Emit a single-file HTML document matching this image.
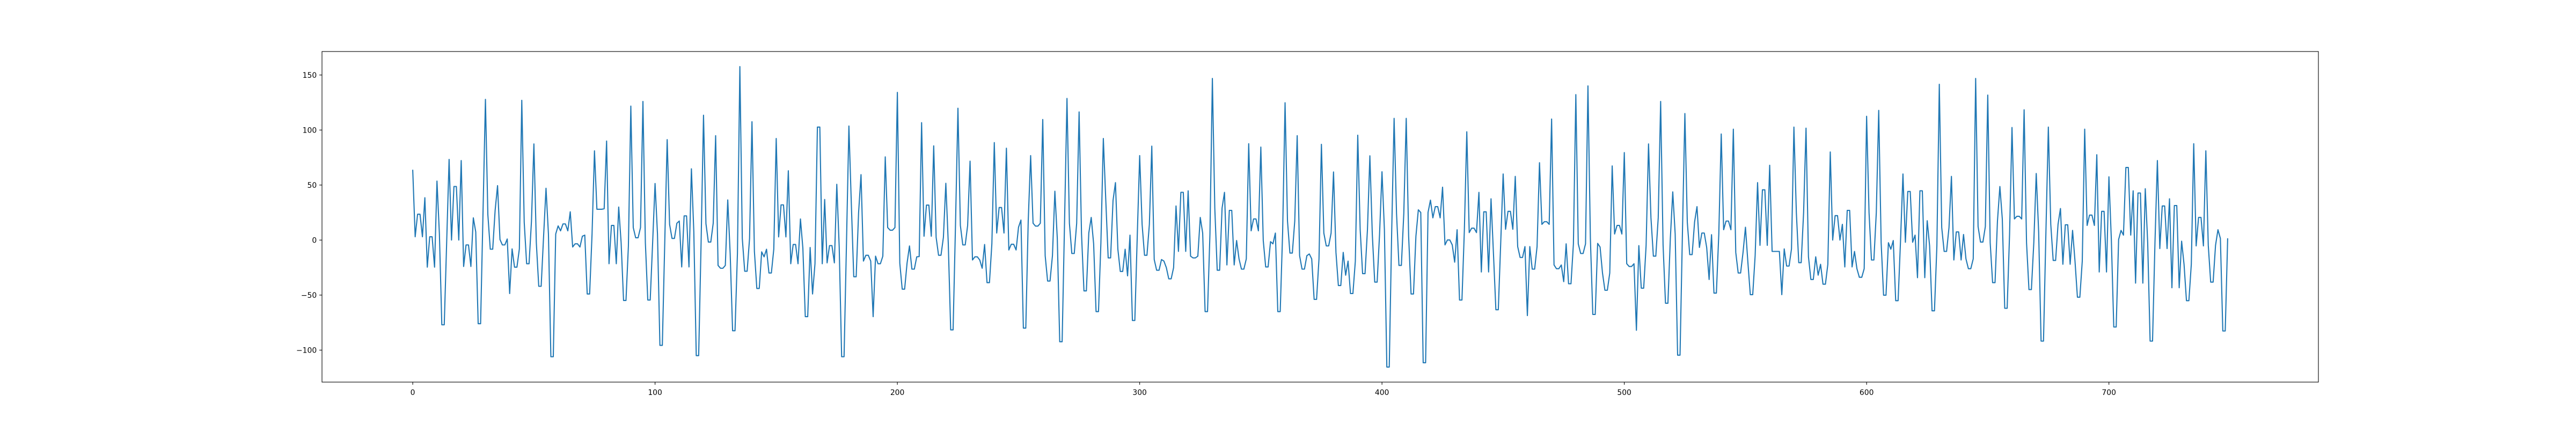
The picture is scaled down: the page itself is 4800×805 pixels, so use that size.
<!DOCTYPE html>
<html><head><meta charset="utf-8"><style>
html,body{margin:0;padding:0;background:#fff;}
svg text{font-family:"DejaVu Sans","Liberation Sans",sans-serif;font-size:13.9px;fill:#000;}
</style></head><body>
<svg id="chart" width="4800" height="800" xmlns="http://www.w3.org/2000/svg">
<rect x="0" y="0" width="4800" height="800" fill="#fff"/>
<g id="plot"></g>
</svg>
<script>
const xTicks = [0,100,200,300,400,500,600,700];
const yTicks = [-100,-50,0,50,100,150];
const seriesA = [63.4,3,23.5,23.5,3,38.5,-24.6,3,3,-24.6,53.6,5.5,-77,-77,-2,73.3,0,48.7,48.7,0,72.3,-24,-4.4,-4.4,-24,20.2,7.4,-76,-76,25,127.9,23,-8.3,-8.3,27,49.5,0.5,-4.4,-4.4,1,-48.6,-8,-24.6,-24.6,-8,127,16.3,-21.5,-21.5,17.3,87.4,-2.4,-42,-42,3.5,47.1,5.5,-106,-106,5.5,12.9,8.4,14.7,14.7,8.4,25.7,-6.3,-3.4,-3.4,-6.3,3.5,4.5,-49,-49,5.5,81.1,28,28,28,28.5,90,-21.5,13.3,13.3,-21.5,30,-2.4,-54.9,-54.9,-5.3,121.8,11.4,2.1,2.1,11.4,126,-2.4,-54.5,-54.5,-2.4,51.4,5.5,-95.7,-95.7,-2.4,91.3,14.3,1.5,1.5,15.3,17.3,-24.4,22,22,-24.4,64.8,7.4,-105,-105,-2.4,113.5,14.9,-1.8,-1.8,15.3,94.9,-23,-25.6,-25.6,-23,36.5,-12.2,-82.4,-82.4,-12,157.7,1.5,-28.3,-28.3,1.5,107.6,-10.3,-44,-44,-10.7,-15.2,-8.3,-29.9,-29.9,-8.3,92.3,2.9,32,32,2.9,63,-21.5,-4,-4,-21.5];
const seriesB = [19.2,-7.3,-69.6,-69.6,-6.7,-49,-21.5,102.7,102.7,-21.5,36.9,-20.7,-5,-5,-20.7,50.7,-6.3,-106,-106,-2.4,103.7,33,-33.3,-33.3,25,59.5,-19.1,-13.8,-13.8,-19.1,-69.6,-14.6,-21.5,-21.5,-14.6,75.6,11.4,9,9,11.4,134.2,-21,-44.6,-44.6,-21,-5.3,-26.4,-26.4,-15.2,-15,106.7,3.5,31.8,31.8,3.5,85.6,2.5,-13.8,-13.8,2.5,51.6,-2.4,-81.6,-81.6,15,119.8,13.3,-4.4,-4.4,13.3,71.7,-18.1,-15.2,-15.2,-18.1,-25.6,-4,-38.7,-38.7,-3.4,88.6,6.4,29.6,29.6,6.4,83.5,-9,-3.8,-3.8,-9,11.7,18.2,-80,-80,17,76.8,15.3,12.7,12.7,15.3,109.6,-14.2,-37.2,-37.2,-14.2,44.4,1.5,-92.4,-92.4,17,128.7,15.3,-12.2,-12.2,15.3,116.5,5.5,-46.2,-46.2,6.4,20.6,-3.4,-65,-65,-2.4,92.3,36.9,-16.2,-16.2,35.9,52.2,-8.3,-28.5,-28.5,-8.3,-32.5,4.5,-73.1,-73.1,3.5,76.8,14.3,-13.8,-13.8,14.3,85.4,-17.7,-27.4,-27.4,-17.7,-19.1,-25,-35.2,-35.2,-25,31,-10.3,43.4,43.4,-10.3,44.8,-14.6,-16.2,-16.2,-14.6];
const seriesC = [20.6,6.4,-65,-65,5.5,146.9,29,-27.4,-27.4,29,43.4,-22.6,27,27,-22.6,-0.4,-17.1,-26.4,-26.4,-17.1,87.6,8.4,19.2,19.2,8.4,84.5,-0.4,-24.4,-24.4,-1.4,-3.4,6.4,-65,-65,7.4,124.8,17.3,-11.8,-11.8,17.3,94.9,-14.2,-26.4,-26.4,-14.2,-12.6,-17.1,-53.9,-53.9,-17.1,87,6.4,-5.3,-5.3,6.4,61.9,-11.2,-41.3,-41.3,-11.2,-31.9,-19.1,-48.6,-48.6,-19.1,95.3,9.4,-30.5,-30.5,9.4,76.6,5.5,-38.2,-38.2,5.5,62.1,9.4,-115.4,-115.4,7.4,110.6,24.1,-23,-23,24.1,110.6,3.5,-49,-49,3.5,27.5,25.1,-111.5,-111.5,25.1,36.3,20.2,30.4,30.4,20.2,48.1,-4.4,0.1,0.1,-4.4,-20.1,9.4,-54.5,-54.5,9.4,98.4,6.8,10.8,10.8,6.8,43.4,-29,25.7,25.7,-29,37.5,-12.2,-63.3,-63.3,-2.4,60.1,9.8,26.1,26.1,9.8,57.9,-5.9,-15.8,-15.8,-5.9,-68.6,-5.9,-26.4,-26.4,-5.9,70.3,14.3,16.7,16.7,14.3,110,-22.6,-26,-26,-22.6,-37.8,-3.4,-39.7,-39.7,-3.4,132.2,-3.4,-12.2,-12.2,-3.4,140.1,1.5,-67.6,-67.6,-3,-6.3,-29.9,-45.6,-45.6,-29.9,67.4];
const seriesD = [5.5,13.3,13.3,5.5,79.5,-21.5,-24,-24,-21.5,-82,-5,-43.7,-43.7,-5,87.4,20.2,-14.6,-14.6,20.2,126,-4.4,-57.4,-57.4,1.5,43.8,5.5,-104.6,-104.6,7.4,115,16.3,-13.2,-13.2,16.3,30.4,-6.7,6.4,6.4,-6.7,-35.8,4.9,-48.2,-48.2,5.5,96.4,9.4,17.3,17.3,9.4,100.8,-11.2,-29.9,-29.9,-11.2,11.7,-20.1,-49.6,-49.6,-14.2,52.2,-4.8,45.7,45.7,-4.8,68,-10.3,-10.3,-10.3,-10.3,-49.6,-8,-23.6,-23.6,-8,102.7,25.1,-20.5,-20.5,25.1,101.7,-15.2,-35.8,-35.8,-15.2,-31.9,-22,-40.1,-40.1,-22,80.1,0,22.2,22.2,0,14.3,-24.4,27,27,-24.4,-10.3,-26,-33.8,-33.8,-26,112.5,25.1,-18.1,-18.1,25.1,117.9,-2.4,-50.1,-50.1,-2.4,-8.3,-0.4,-55.1,-55.1,-0.4,60.1,-2,44.2,44.2,-2,4.5,-34.2,44.8,44.8,-34.2,17.6,-5.3,-64.3,-64.3,-5.3,141.6,11.4,-10.3,-10.3,11.4,57.9,-18.1,7.4,7.4,-18.1,5.1,-17.1,-26,-26,-17.1,146.9,12.3,-1.8,-1.8,12.3,131.8,-2.4,-38.7,-38.7,17.3,48.7,19.2,-62,-62,5.5,102.3,19.2,21.6,21.6,19.2,118.4];
const seriesE = [-2.4,-45,-45,-2.4,60.5,7.4,-91.8,-91.8,7.4,102.7,14.3,-18.5,-18.5,14.3,28.7,-22,13.9,13.9,-22,8.8,-19.1,-51.9,-51.9,-19.1,100.8,13.3,22.7,22.7,13.3,77.6,-29,26.1,26.1,-29,57.5,0.5,-79,-79,0.5,8.8,4.5,66,66,4.5,44.8,-39.1,42.8,42.8,-39.1,46.7,-2.4,-91.8,-91.8,-2.4,72.3,-7.7,31,31,-7.7,37.5,-43.3,31.4,31.4,-43.3,-1,-22,-55.1,-55.1,-22,87.6,-5.3,20.6,20.6,-5.3,81.1,-4.8,-38.2,-38.2,-4.8,9.4,1.5,-82.6,-82.6,1.1];
const values = seriesA.concat(seriesB, seriesC, seriesD, seriesE);

const AX = {left:600, right:4320, top:96, bottom:712};
const xMin = -0.05*(values.length-1), xMax = (values.length-1)*1.05;
const vMin = Math.min(...values), vMax = Math.max(...values);
const yMin = vMin - 0.05*(vMax-vMin), yMax = vMax + 0.05*(vMax-vMin);
function sx(v){return AX.left + (v-xMin)/(xMax-xMin)*(AX.right-AX.left);}
function sy(v){return AX.bottom - (v-yMin)/(yMax-yMin)*(AX.bottom-AX.top);}

const NS = "http://www.w3.org/2000/svg";
const plot = document.getElementById('plot');
function mk(tag, attrs){const e=document.createElementNS(NS,tag);for(const k in attrs)e.setAttribute(k,attrs[k]);return e;}

// series line
let d = values.map((v,i)=>(i?'L':'M')+sx(i).toFixed(2)+' '+sy(v).toFixed(2)).join(' ');
const line = mk('path',{d:d, fill:'none', stroke:'#1f77b4', 'stroke-width':2.08, 'stroke-linejoin':'round', 'stroke-linecap':'square'});


plot.appendChild(line);

// frame
const frame = mk('rect',{x:AX.left, y:AX.top, width:AX.right-AX.left, height:AX.bottom-AX.top, fill:'none', stroke:'#000', 'stroke-width':1.1});


plot.appendChild(frame);

// x ticks
xTicks.forEach(t=>{
  const x = sx(t);
  const tk = mk('line',{x1:x, x2:x, y1:AX.bottom, y2:AX.bottom+4.9, stroke:'#000', 'stroke-width':1.1});
  
  
  plot.appendChild(tk);
  const lb = mk('text',{x:x, y:AX.bottom+24, 'text-anchor':'middle'});
  lb.textContent = String(t);
  
  
  plot.appendChild(lb);
});
// y ticks
yTicks.forEach(t=>{
  const y = sy(t);
  const tk = mk('line',{x1:AX.left-4.9, x2:AX.left, y1:y, y2:y, stroke:'#000', 'stroke-width':1.1});
  
  
  plot.appendChild(tk);
  const lb = mk('text',{x:AX.left-9.8, y:y+5, 'text-anchor':'end'});
  lb.textContent = t<0 ? '\u2212'+Math.abs(t) : String(t);
  
  
  plot.appendChild(lb);
});
</script>
</body></html>
